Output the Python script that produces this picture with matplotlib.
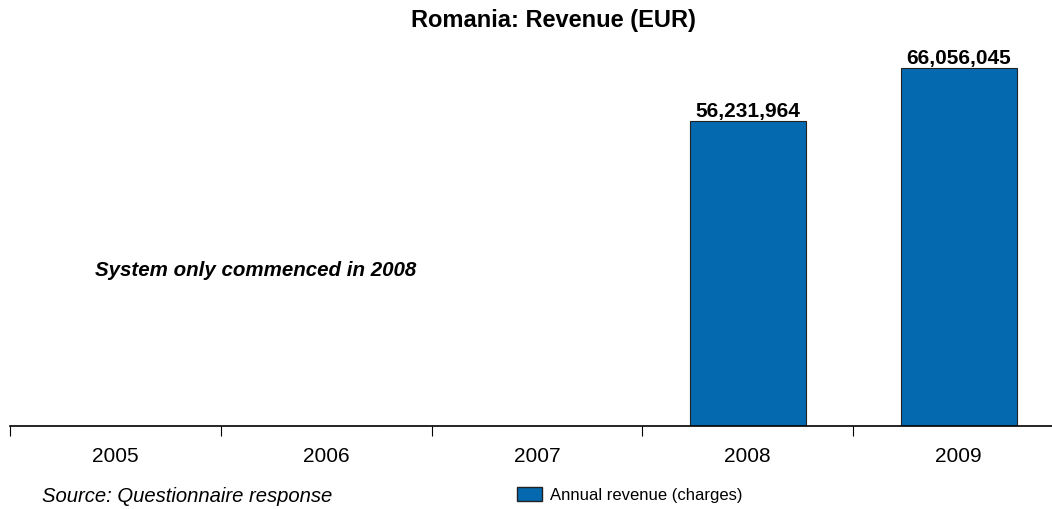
import matplotlib
matplotlib.use("Agg")
import matplotlib.pyplot as plt
from matplotlib.patches import Patch

plt.rcParams['font.family'] = ['Liberation Sans', 'DejaVu Sans']

# Revenue per year (EUR); the system started in 2008
years = ['2005', '2006', '2007', '2008', '2009']
revenue = [0, 0, 0, 56231964, 66056045]
bar_color = '#0569B0'

fig = plt.figure(figsize=(10.52, 5.09), dpi=100)
# axes box in pixels: left 10, baseline at y=426 (from top), right past the edge
W, H = 1052, 509
left, right = 10, 1064
base, top = 426, 50
ax = fig.add_axes([left / W, (H - base) / H, (right - left) / W, (base - top) / H])

x = list(range(len(years)))
ax.bar(x, revenue, width=0.55, color=bar_color, edgecolor='#222222', linewidth=0.8)

for xi, v in zip(x, revenue):
    if v > 0:
        ax.text(xi, v, f"{v:,}", ha='center', va='bottom', fontsize=15,
                fontweight='bold')

ax.set_xlim(-0.5, len(years) - 0.5)
ax.set_ylim(0, revenue[-1] * (base - top) / 358)

for s in ['top', 'right', 'left']:
    ax.spines[s].set_visible(False)
ax.spines['bottom'].set_linewidth(1.2)
ax.set_yticks([])
# tick marks between categories, labels centred on the bars
ax.set_xticks([i - 0.5 for i in range(len(years))])
ax.set_xticklabels([])
ax.tick_params(axis='x', which='major', direction='out', length=7, width=0.8)
ax.set_xticks(x, minor=True)
ax.set_xticklabels(years, minor=True, fontsize=15)
ax.tick_params(axis='x', which='minor', length=0, pad=15)

ax.text(85 / (right - left), 1 - (270 - top) / (base - top), 'System only commenced in 2008',
        transform=ax.transAxes, fontsize=14.8, fontweight='bold', style='italic',
        va='center')

fig.suptitle('Romania: Revenue (EUR)', x=553 / W, y=1 - 21 / H, va='center',
             fontsize=17, fontweight='bold')

fig.text(42 / W, 1 - 496 / H, 'Source: Questionnaire response', fontsize=14.6,
         style='italic', va='center')

fig.legend(handles=[Patch(facecolor=bar_color, edgecolor='#222222',
                          label='Annual revenue (charges)')],
           loc='center left', bbox_to_anchor=(509 / W, 1 - 495 / H), frameon=False,
           fontsize=12, handlelength=1.5, handleheight=0.95, handletextpad=0.45,
           borderpad=0, borderaxespad=0.5)

fig.savefig('out.png', dpi=100)
